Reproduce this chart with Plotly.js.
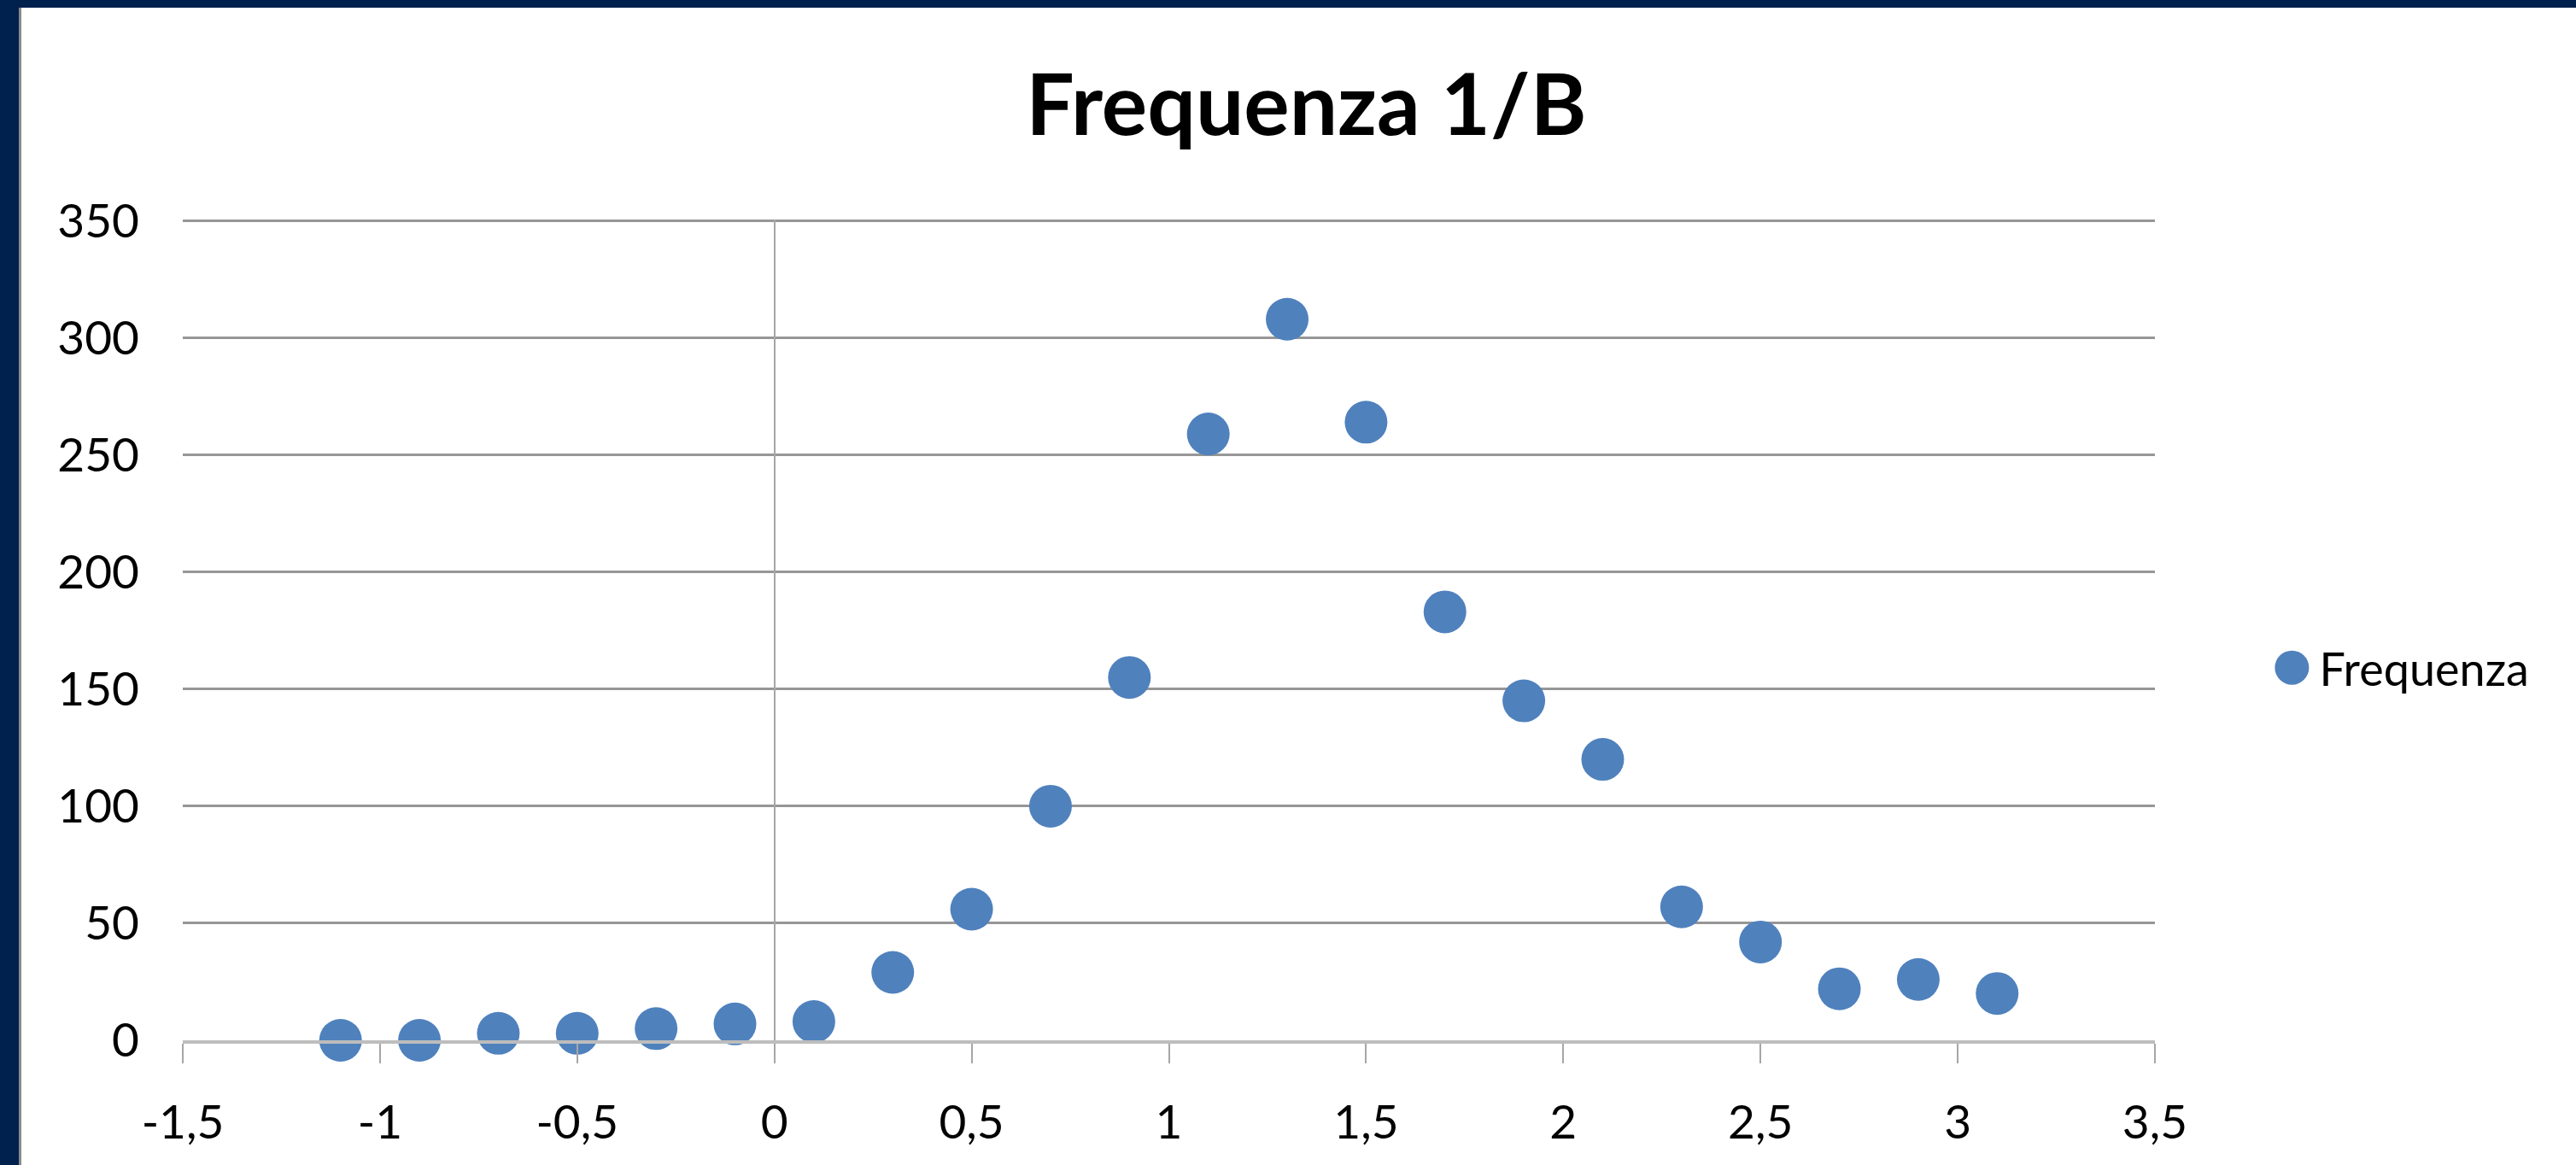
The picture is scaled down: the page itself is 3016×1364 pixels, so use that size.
<!DOCTYPE html>
<html>
<head>
<meta charset="utf-8">
<script src="https://cdn.plot.ly/plotly-3.0.1.min.js"></script>
<style>
  html, body { margin: 0; padding: 0; width: 3016px; height: 1364px; overflow: hidden; background: #00204e; }
  #frame { position: absolute; left: 22px; top: 9px; width: 2991px; height: 1355px; background: #ffffff; border-left: 3px solid #8a8a8a; }
  #chart { width: 2991px; height: 1355px; }
</style>
</head>
<body>
<div id="frame"><div id="chart"></div></div>
<script>
// Data
const xValues = [-1.1, -0.9, -0.7, -0.5, -0.3, -0.1, 0.1, 0.3, 0.5, 0.7, 0.9, 1.1, 1.3, 1.5, 1.7, 1.9, 2.1, 2.3, 2.5, 2.7, 2.9, 3.1];
const frequenza = [0, 0, 3, 3, 5, 7, 8, 29, 56, 100, 155, 259, 308, 264, 183, 145, 120, 57, 42, 22, 26, 20];
const seriesName = "Frequenza";
const chartTitle = "Frequenza 1/B";

// Tick labels as printed in the reference (Italian decimal comma, hyphen minus)
const xTickVals = [-1.5, -1, -0.5, 0, 0.5, 1, 1.5, 2, 2.5, 3, 3.5];
const xTickText = ["-1,5", "-1", "-0,5", "0", "0,5", "1", "1,5", "2", "2,5", "3", "3,5"];
const yTickVals = [0, 50, 100, 150, 200, 250, 300, 350];
const yTickText = ["0", "50", "100", "150", "200", "250", "300", "350"];

const FONT = "Lato, 'Open Sans', sans-serif";

const trace = {
  type: "scatter",
  mode: "markers",
  name: seriesName,
  x: xValues,
  y: frequenza,
  marker: { color: "#4F81BD", size: 50, line: { width: 0 } },
  showlegend: true,
  cliponaxis: false
};

const layout = {
  width: 2991,
  height: 1355,
  paper_bgcolor: "#ffffff",
  plot_bgcolor: "#ffffff",
  separators: ", ",
  margin: { l: 189, r: 493, t: 248, b: 146, pad: 0 },
  font: { family: FONT, color: "#000000", size: 55 },
  title: {
    text: chartTitle,
    font: { family: FONT, size: 100, color: "#000000", weight: "bold" },
    xref: "container", x: 0.503, xanchor: "center",
    yref: "container", y: 0.916, yanchor: "middle"
  },
  xaxis: {
    range: [-1.5, 3.5],
    tickmode: "array",
    tickvals: xTickVals,
    ticktext: xTickText,
    showgrid: false,
    zeroline: true,
    zerolinecolor: "#a6a6a6",
    zerolinewidth: 2,
    showline: true,
    linecolor: "#bdbdbd",
    linewidth: 4,
    ticks: "outside",
    ticklen: 23,
    tickwidth: 2,
    tickcolor: "#a6a6a6",
    ticklabelstandoff: 22,
    tickfont: { family: FONT, size: 55, color: "#000000" },
    fixedrange: true
  },
  yaxis: {
    range: [0, 350.6],
    tickmode: "array",
    tickvals: yTickVals,
    ticktext: yTickText,
    showgrid: true,
    gridcolor: "#969696",
    gridwidth: 3,
    zeroline: false,
    showline: false,
    ticks: "",
    ticklabelstandoff: 50,
    tickfont: { family: FONT, size: 55, color: "#000000" },
    fixedrange: true
  },
  showlegend: true,
  legend: {
    x: 1.066, xanchor: "left",
    y: 0.4536, yanchor: "middle",
    font: { family: FONT, size: 54, color: "#000000" },
    bgcolor: "rgba(0,0,0,0)",
    borderwidth: 0
  }
};

Plotly.newPlot("chart", [trace], layout, { displayModeBar: false, staticPlot: true }).then(function (gd) {
  // Let the legend draw outside its clip box, then enlarge its marker symbol
  gd.querySelectorAll(".legend [clip-path]").forEach(function (el) {
    el.removeAttribute("clip-path");
  });
  gd.querySelectorAll(".legend .legendpoints path.scatterpts").forEach(function (p) {
    const t = p.getAttribute("transform") || "";
    p.setAttribute("transform", "translate(-12,0) " + t + " scale(2.5)");
  });
});
</script>
</body>
</html>
